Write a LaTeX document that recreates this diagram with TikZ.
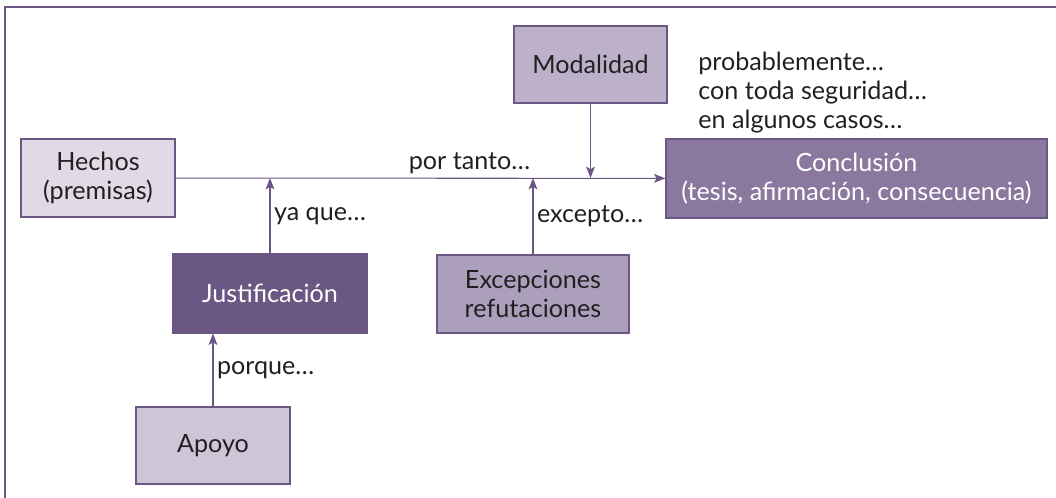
\documentclass[tikz,border=0pt]{standalone}
\usepackage{fontspec}
\setmainfont{Lato}
\usetikzlibrary{arrows.meta}
\usetikzlibrary{positioning}
\definecolor{morado}{HTML}{6B5783}
\definecolor{lila}{HTML}{8A789F}
\definecolor{malva}{HTML}{AB9FBB}
\definecolor{malvaclaro}{HTML}{BDB0C9}
\definecolor{lavanda}{HTML}{CFC5D8}
\definecolor{lavandaclaro}{HTML}{E0DAE7}
\definecolor{texto}{HTML}{231F20}
\tikzset{
    caja/.style={draw=morado, line width=0.6pt, align=center, inner sep=0pt, text=texto,
        font=\fontsize{14.3}{16.5}\selectfont},
    flecha/.style={draw=morado, line width=0.6pt, -{Stealth[length=6.5pt, width=5pt, inset=1.5pt]}},
    etiqueta/.style={text=texto, inner sep=2pt, font=\fontsize{14.3}{16.5}\selectfont},
}
\begin{document}
\begin{tikzpicture}
            \useasboundingbox (0,0) rectangle (21.12,-9.96);
            % Frame (top and left only)
            \draw[morado, line width=0.8pt] (21.12,-0.14) -- (0.1,-0.14) -- (0.1,-9.96);

            % Boxes
            \node[caja, fill=lavandaclaro, minimum width=3.08cm, minimum height=1.56cm] (hechos) at (1.96,-3.56) {Hechos\\(premisas)};
            \node[caja, fill=lila, text=white, minimum width=7.62cm, minimum height=1.58cm] (conclusion) at (17.13,-3.57) {Conclusión\\(tesis, afirmación, consecuencia)};
            \node[caja, fill=malvaclaro, minimum width=3.06cm, minimum height=1.54cm] (modalidad) at (11.81,-1.29) {Modalidad};
            \node[caja, fill=morado, text=white, minimum width=3.88cm, minimum height=1.58cm] (justificacion) at (5.40,-5.87) {Justificación};
            \node[caja, fill=malva, minimum width=3.84cm, minimum height=1.56cm] (excepciones) at (10.66,-5.88) {Excepciones\\refutaciones};
            \node[caja, fill=lavanda, minimum width=3.08cm, minimum height=1.54cm] (apoyo) at (4.26,-8.91) {Apoyo};

            % Modality qualifiers
            \node[etiqueta, anchor=west, align=left, inner sep=0pt] (calificadores) at (13.96,-1.86) {probablemente…\\con toda seguridad…\\en algunos casos…};

            % Relationships
            \draw[flecha] (hechos) -- node[etiqueta, above, pos=0.6] {por tanto…} (conclusion);
            \draw[flecha] (justificacion) -- node[etiqueta, right] {ya que…} (justificacion |- hechos);
            \draw[flecha] (excepciones) -- node[etiqueta, right] {excepto…} (excepciones |- hechos);
            \draw[flecha] (modalidad) -- (modalidad |- hechos);
            \draw[flecha] (apoyo) -- node[etiqueta, right] {porque…} (apoyo |- justificacion.south);
        \end{tikzpicture}
\end{document}
